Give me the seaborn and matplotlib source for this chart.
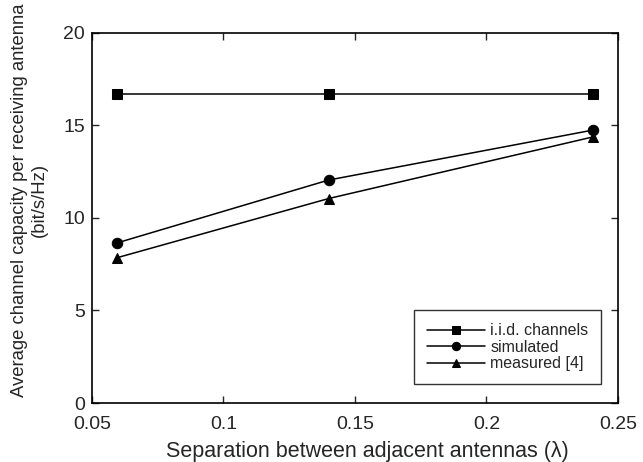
import numpy as np
import pandas as pd

import matplotlib
matplotlib.use("Agg")
import matplotlib.pyplot as plt
import seaborn as sns

# Data
separation = [0.0595, 0.14, 0.2405]
iid_capacity = [16.7, 16.7, 16.7]
simulated_capacity = [8.65, 12.05, 14.75]
measured_capacity = [7.85, 11.05, 14.38]

series_names = ["i.i.d. channels", "simulated", "measured [4]"]
series_markers = ["s", "o", "^"]

df = pd.DataFrame({
    "separation": separation * 3,
    "capacity": iid_capacity + simulated_capacity + measured_capacity,
    "series": np.repeat(series_names, len(separation)),
})

sns.set_style("ticks")
plt.rcParams["font.family"] = ["Liberation Sans", "DejaVu Sans"]

fig = plt.figure(figsize=(6.43, 4.62), dpi=100)
ax = fig.add_axes([0.143, 0.1277, 0.818, 0.801])

sns.lineplot(
    data=df,
    x="separation",
    y="capacity",
    hue="series",
    style="series",
    markers=dict(zip(series_names, series_markers)),
    dashes=False,
    palette=["black"] * 3,
    markersize=7.5,
    linewidth=1.1,
    markeredgecolor="black",
    ax=ax
)

ax.set_xlim(0.05, 0.25)
ax.set_ylim(0, 20)
ax.set_xticks([0.05, 0.1, 0.15, 0.2, 0.25])
ax.set_xticklabels(["0.05", "0.1", "0.15", "0.2", "0.25"])
ax.set_yticks([0, 5, 10, 15, 20])

ax.tick_params(
    direction="in",
    top=True,
    right=True,
    length=5,
    width=1,
    labelsize=14
)
ax.tick_params(axis="x", pad=9)
ax.tick_params(axis="y", pad=5)

for spine in ax.spines.values():
    spine.set_linewidth(1.2)
    spine.set_color("black")

ax.set_xlabel(
    "Separation between adjacent antennas (\u03bb)",
    fontsize=15.5
)
ax.xaxis.label.set_va("center")
ax.xaxis.set_label_coords(0.523, -0.132)

ax.set_ylabel(
    "Average channel capacity per receiving antenna\n(bit/s/Hz)",
    fontsize=13.3
)
ax.yaxis.label.set_va("center")
ax.yaxis.set_label_coords(-0.119, 0.549)

leg = ax.legend(
    loc="lower right",
    bbox_to_anchor=(0.968, 0.051),
    fontsize=11.5,
    frameon=True,
    fancybox=False,
    edgecolor="black",
    handlelength=3.6,
    handletextpad=0.35,
    borderpad=0.8,
    borderaxespad=0,
    labelspacing=0.1,
    markerscale=0.8,
    title=None
)
leg.get_frame().set_linewidth(1.0)

fig.savefig("out.png", dpi=100)
plt.close()
